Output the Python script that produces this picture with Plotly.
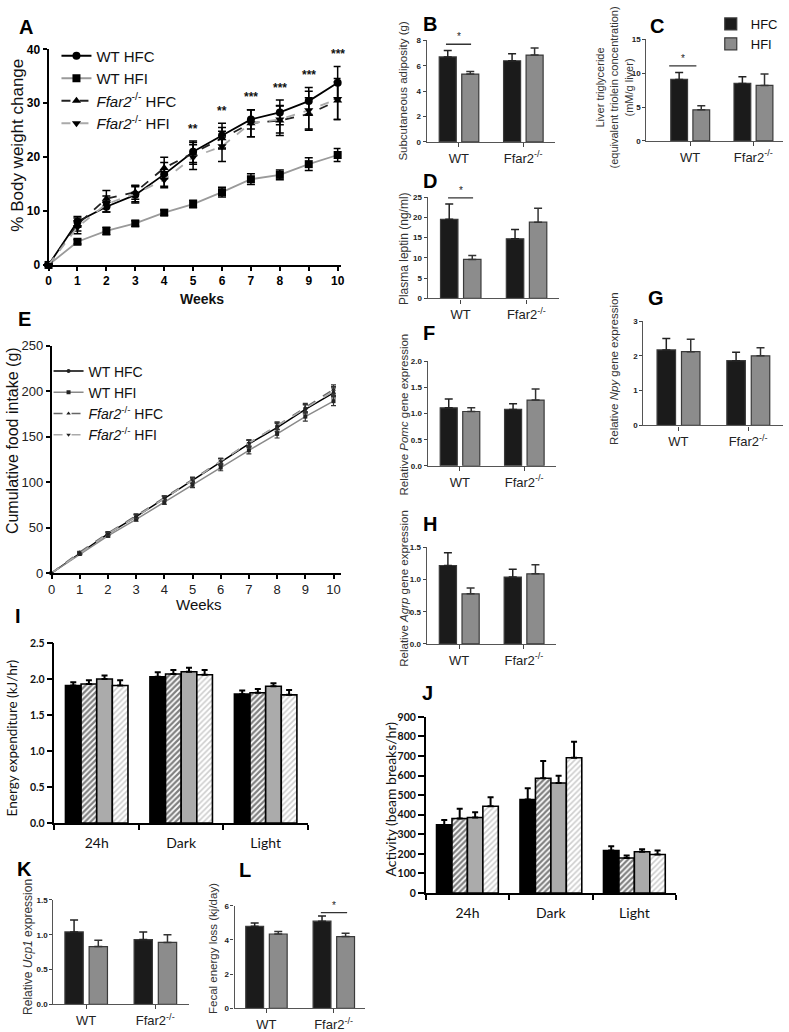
import plotly.graph_objects as go

W, H = 789, 1032
SANS = "Liberation Sans, Arial, sans-serif"
CAL = "Lato, sans-serif"

# ---------------- data ----------------
weeks = list(range(11))
series_names = ["WT HFC", "WT HFI", "<i>Ffar2</i><sup>-/-</sup> HFC", "<i>Ffar2</i><sup>-/-</sup> HFI"]

# Panel A: % body weight change
a_wt_hfc = [0, 8.0, 10.8, 13.0, 16.8, 21.0, 24.0, 27.0, 28.3, 30.4, 33.8]
a_wt_hfc_err = [0, 1.0, 1.0, 1.5, 2.2, 2.0, 2.3, 1.8, 2.3, 2.5, 3.0]
a_wt_hfi = [0, 4.3, 6.3, 7.7, 9.7, 11.3, 13.5, 15.9, 16.7, 18.7, 20.4]
a_wt_hfi_err = [0, 0.4, 0.7, 0.5, 0.5, 0.7, 0.9, 1.0, 0.9, 1.2, 1.2]
a_ko_hfc = [0, 7.5, 12.3, 13.5, 18.0, 20.7, 23.5, 26.3, 26.8, 28.0, 30.5]
a_ko_hfc_err = [0, 1.2, 1.5, 1.3, 2.0, 2.0, 2.0, 2.5, 2.8, 3.0, 3.5]
a_ko_hfi = [0, 7.0, 11.3, 13.2, 15.8, 20.0, 22.0, 26.3, 27.0, 28.7, 30.8]
a_ko_hfi_err = [0, 1.2, 1.5, 1.5, 1.5, 2.3, 2.8, 2.5, 2.5, 3.5, 3.8]
a_sig_weeks = [5, 6, 7, 8, 9, 10]
a_sig_text = ["**", "**", "***", "***", "***", "***"]

# Panel E: cumulative food intake (g)
e_wt_hfc = [0, 22, 43, 62, 82, 102, 122, 142, 160, 180, 198]
e_wt_hfc_err = [0, 1.5, 2.0, 2.5, 2.5, 3.0, 3.5, 4.0, 4.5, 5.0, 5.5]
e_wt_hfi = [0, 21, 41, 59, 78, 97, 116, 135, 153, 172, 189]
e_wt_hfi_err = [0, 1.0, 1.5, 2.0, 2.5, 3.0, 3.5, 4.0, 4.5, 5.0, 5.0]
e_ko_hfc = [0, 23, 44, 63, 83, 103, 123, 143, 162, 182, 202]
e_ko_hfc_err = [0, 1.0, 1.5, 2.0, 2.0, 2.5, 3.0, 3.5, 4.0, 4.5, 5.0]
e_ko_hfi = [0, 22, 43, 62, 82, 102, 123, 143, 162, 181, 200]
e_ko_hfi_err = [0, 1.0, 1.5, 2.0, 2.5, 2.5, 3.0, 3.5, 4.0, 4.5, 5.0]

# Two-group bar panels (HFC vs HFI)
groups = ["WT", "Ffar2<sup>-/-</sup>"]
diets = ["HFC", "HFI"]
b_hfc, b_hfc_err = [6.7, 6.4], [0.5, 0.55]
b_hfi, b_hfi_err = [5.35, 6.85], [0.2, 0.55]
c_hfc, c_hfc_err = [9.1, 8.5], [1.0, 1.0]
c_hfi, c_hfi_err = [4.6, 8.2], [0.6, 1.7]
d_hfc, d_hfc_err = [19.5, 14.7], [3.8, 2.3]
d_hfi, d_hfi_err = [9.6, 18.8], [1.0, 3.4]
f_hfc, f_hfc_err = [1.11, 1.08], [0.17, 0.11]
f_hfi, f_hfi_err = [1.04, 1.26], [0.07, 0.21]
g_hfc, g_hfc_err = [2.17, 1.86], [0.33, 0.24]
g_hfi, g_hfi_err = [2.12, 2.0], [0.36, 0.23]
h_hfc, h_hfc_err = [1.22, 1.04], [0.2, 0.12]
h_hfi, h_hfi_err = [0.78, 1.09], [0.09, 0.14]
k_hfc, k_hfc_err = [1.04, 0.93], [0.17, 0.11]
k_hfi, k_hfi_err = [0.83, 0.89], [0.09, 0.11]
l_hfc, l_hfc_err = [4.8, 5.1], [0.2, 0.3]
l_hfi, l_hfi_err = [4.35, 4.2], [0.15, 0.2]

# Four-group bar panels (I, J)
periods = ["24h", "Dark", "Light"]
i_vals = [[1.91, 2.03, 1.79], [1.93, 2.07, 1.81], [2.00, 2.10, 1.90], [1.91, 2.06, 1.78]]
i_errs = [[0.045, 0.063, 0.05], [0.054, 0.055, 0.05], [0.05, 0.055, 0.04], [0.072, 0.064, 0.068]]
j_vals = [[348, 478, 217], [381, 586, 179], [386, 562, 211], [443, 691, 197]]
j_errs = [[25, 57, 22], [49, 88, 13], [26, 37, 13], [46, 82, 20]]

# ---------------- helpers ----------------
fig = go.Figure()
layout = dict(width=W, height=H, margin=dict(l=0, r=0, t=0, b=0),
              paper_bgcolor="white", plot_bgcolor="white", barmode="overlay",
              font=dict(family=SANS, color="#111"), showlegend=True)
annotations = []
shapes = []


def sfx(n):
    return "" if n == 1 else str(n)


def set_axes(n, xpx, ypx, xr, yr, xkw, ykw):
    s = sfx(n)
    layout["xaxis" + s] = dict(domain=[xpx[0] / W, xpx[1] / W], range=xr, anchor="y" + s,
                               showgrid=False, zeroline=False, showline=True, **xkw)
    layout["yaxis" + s] = dict(domain=[1 - ypx[1] / H, 1 - ypx[0] / H], range=yr, anchor="x" + s,
                               showgrid=False, zeroline=False, showline=True, **ykw)


def text_px(x, y, text, size, family=SANS, angle=0, bold=False, color="#111", xanchor="center", yanchor="middle"):
    annotations.append(dict(x=x / W, y=1 - y / H, xref="paper", yref="paper", text=text, showarrow=False,
                            textangle=angle, xanchor=xanchor, yanchor=yanchor,
                            font=dict(family=family, size=size, color=color,
                                      weight="bold" if bold else "normal")))


# ---------------- Panel A ----------------
a_series = [(a_wt_hfc, a_wt_hfc_err, "black", "solid", "circle", 8),
            (a_wt_hfi, a_wt_hfi_err, "#9a9a9a", "solid", "square", 8),
            (a_ko_hfc, a_ko_hfc_err, "#222222", "dash", "triangle-up", 8),
            (a_ko_hfi, a_ko_hfi_err, "#aaaaaa", "dash", "triangle-down", 8)]
for name, (yv, ev, col, dash, sym, sz) in zip(series_names, a_series):
    fig.add_trace(go.Scatter(x=weeks, y=yv, name=name, mode="lines+markers", legend="legend",
                             line=dict(color=col, dash=dash, width=1.8),
                             marker=dict(symbol=sym, size=sz, color="black"),
                             error_y=dict(type="data", array=ev, color="black", thickness=1.5, width=4),
                             xaxis="x", yaxis="y", cliponaxis=False))
set_axes(1, (45, 340), (43, 262), [0, 10.1], [0, 40],
         dict(tickmode="linear", tick0=0, dtick=1, ticks="outside", ticklen=4, tickwidth=2,
              linecolor="black", linewidth=2, tickcolor="black",
              tickfont=dict(size=12, family=SANS, weight="bold", color="black")),
         dict(tickmode="linear", tick0=0, dtick=10, ticks="outside", ticklen=4, tickwidth=2,
              linecolor="black", linewidth=2, tickcolor="black",
              tickfont=dict(size=12, family=SANS, weight="bold", color="black")))
all_a = [(a_wt_hfc, a_wt_hfc_err), (a_wt_hfi, a_wt_hfi_err), (a_ko_hfc, a_ko_hfc_err), (a_ko_hfi, a_ko_hfi_err)]
for wk, txt in zip(a_sig_weeks, a_sig_text):
    top = max(v[wk] + e[wk] for v, e in all_a)
    annotations.append(dict(x=wk, y=top + 0.6, xref="x", yref="y", text=txt, showarrow=False,
                            yanchor="bottom", font=dict(size=12, family=SANS, weight="bold", color="#111")))
text_px(14, 140, "% Body weight change", 17, angle=-90)
text_px(200, 297, "Weeks", 14, bold=True)
layout["legend"] = dict(x=53 / W, y=1 - 33 / H, xanchor="left", yanchor="top", bgcolor="rgba(0,0,0,0)",
                        font=dict(size=15, family=SANS, color="#111"), tracegroupgap=0)

# ---------------- Panel E ----------------
e_series = [(e_wt_hfc, e_wt_hfc_err, "black", "solid", "circle"),
            (e_wt_hfi, e_wt_hfi_err, "#8a8a8a", "solid", "square"),
            (e_ko_hfc, e_ko_hfc_err, "#666666", "dash", "triangle-up"),
            (e_ko_hfi, e_ko_hfi_err, "#aaaaaa", "dash", "triangle-down")]
for name, (yv, ev, col, dash, sym) in zip(series_names, e_series):
    fig.add_trace(go.Scatter(x=weeks, y=yv, name=name, mode="lines+markers", legend="legend2",
                             line=dict(color=col, dash=dash, width=1.5),
                             marker=dict(symbol=sym, size=4, color="#222"),
                             error_y=dict(type="data", array=ev, color="#333", thickness=1.2, width=2.5),
                             xaxis="x5", yaxis="y5", cliponaxis=False))
set_axes(5, (48, 340), (344, 575), [0, 10.25], [0, 250],
         dict(tickmode="linear", tick0=0, dtick=1, ticks="outside", ticklen=4, tickwidth=1.5,
              linecolor="black", linewidth=1.5, tickcolor="black",
              tickfont=dict(size=13, family=SANS, color="#222")),
         dict(tickmode="linear", tick0=0, dtick=50, ticks="outside", ticklen=4, tickwidth=1.5,
              linecolor="black", linewidth=1.5, tickcolor="black",
              tickfont=dict(size=13, family=SANS, color="#222")))
annotations.append(dict(x=10.3, y=e_wt_hfi[-1], xref="x5", yref="y5", text="*", showarrow=False,
                        xanchor="left", font=dict(size=12, family=SANS, color="#222")))
text_px(8, 440, "Cumulative food intake (g)", 16, angle=-90)
text_px(197, 607, "Weeks", 15)
layout["legend2"] = dict(x=45 / W, y=1 - 354 / H, xanchor="left", yanchor="top", bgcolor="rgba(0,0,0,0)",
                         font=dict(size=14, family=SANS, color="#111"), tracegroupgap=0)

# ---------------- two-group bar panels ----------------
HFC_COL, HFI_COL = "#1b1b1b", "#8c8c8c"
gidx = list(range(len(groups)))
bar_panels = [
    # n, hfc, hfc_err, hfi, hfi_err, xpx, ypx, xrange, yrange, dtick, fmt, title, title_xy, size, sig
    (2, b_hfc, b_hfc_err, b_hfi, b_hfi_err, (427, 557), (34, 137), [-0.5, 1.5], [0, 8], 2, "d",
     "Subcutaneous adiposity (g)", (403, 85), 11.5, (0, 7.7)),
    (3, c_hfc, c_hfc_err, c_hfi, c_hfi_err, (649, 787), (33, 136), [-0.69, 1.47], [0, 15], 5, "d",
     "Liver triglyceride<br>(equivalent triolein concentration)<br>(mM/g liver)", (617, 82), 11, (0, 11.1)),
    (4, d_hfc, d_hfc_err, d_hfi, d_hfi_err, (428, 561), (193, 296), [-0.5, 1.5], [0, 25], 5, "d",
     "Plasma leptin (ng/ml)", (404, 245), 12, (0, 24.8)),
    (6, f_hfc, f_hfc_err, f_hfi, f_hfi_err, (428, 558), (360, 466), [-0.5, 1.5], [0, 2], 0.5, ".1f",
     "Relative <i>Pomc</i> gene expression", (404, 414), 11.5, None),
    (7, g_hfc, g_hfc_err, g_hfi, g_hfi_err, (646, 787), (319, 425), [-0.5, 1.5], [0, 3], 1, "d",
     "Relative <i>Npy</i> gene expression", (617, 367), 11.5, None),
    (8, h_hfc, h_hfc_err, h_hfi, h_hfi_err, (427, 558), (549, 647), [-0.5, 1.5], [0, 1.5], 0.5, ".1f",
     "Relative <i>Agrp</i> gene expression", (404, 590), 11.5, (0, 1.52)),
    (11, k_hfc, k_hfc_err, k_hfi, k_hfi_err, (50, 187), (907, 1013), [-0.47, 1.49], [0, 1.5], 0.5, ".1f",
     "Relative <i>Ucp1</i> expression", (24, 955), 12, None),
    (12, l_hfc, l_hfc_err, l_hfi, l_hfi_err, (233, 365), (913, 1017), [-0.47, 1.47], [0, 6], 2, "d",
     "Fecal energy loss (kj/day)", (211, 956), 11.5, (1, 5.6)),
]
sig_span = {2: (-0.2, 0.19), 3: (-0.33, 0.1), 4: (-0.19, 0.19), 8: (-0.18, 0.22), 12: (-0.19, 0.2)}
for (n, hfc, hfc_e, hfi, hfi_e, xpx, ypx, xr, yr, dt, fmt, title, txy, tsize, sig) in bar_panels:
    s = sfx(n)
    for diet, vals, errs, col, off, ecol in [(diets[0], hfc, hfc_e, HFC_COL, -0.305, "#222"),
                                              (diets[1], hfi, hfi_e, HFI_COL, 0.045, "#333")]:
        fig.add_trace(go.Bar(x=gidx, y=vals, name=diet, offset=off, width=0.265,
                             marker=dict(color=col, line=dict(color="#3a3a3a", width=1.2)),
                             error_y=dict(type="data", array=errs, arrayminus=[0] * len(errs), symmetric=False,
                                          color=ecol, thickness=1.5, width=4),
                             xaxis="x" + s, yaxis="y" + s, legend="legend3", showlegend=(n == 3)))
    set_axes(n, xpx, ypx, xr, yr,
             dict(tickmode="array", tickvals=gidx, ticktext=groups, ticks="outside", ticklen=4,
                  tickcolor="#444", linecolor="#555", linewidth=1.3,
                  tickfont=dict(size=13, family=SANS, color="#222")),
             dict(tickmode="linear", tick0=0, dtick=dt, tickformat=fmt, ticks="outside", ticklen=3,
                  tickcolor="#444", linecolor="#555", linewidth=1.3,
                  tickfont=dict(size=8, family=SANS, weight="bold", color="#222")))
    text_px(txy[0], txy[1], title, tsize, angle=-90, color="#333")
    if sig is not None:
        gx, gy = sig
        x0, x1 = sig_span[n]
        shapes.append(dict(type="line", xref="x" + s, yref="y" + s, x0=gx + x0, x1=gx + x1, y0=gy, y1=gy,
                           line=dict(color="#333", width=1.3)))
        annotations.append(dict(x=gx + (x0 + x1) / 2, y=gy, xref="x" + s, yref="y" + s, text="*",
                                showarrow=False, yanchor="bottom", font=dict(size=10, family=SANS, color="#222")))

layout["legend3"] = dict(x=714 / W, y=1 - 2 / H, xanchor="left", yanchor="top", bgcolor="rgba(0,0,0,0)",
                         font=dict(size=13, family=SANS, color="#111"), tracegroupgap=0)

# ---------------- four-group bar panels I, J ----------------
four_styles = [dict(color="black"),
               dict(color="white", pattern=dict(shape="/", fgcolor="black", bgcolor="white", size=4, solidity=0.55)),
               dict(color="#ababab"),
               dict(color="white", pattern=dict(shape="/", fgcolor="#9c9c9c", bgcolor="white", size=4, solidity=0.4))]
four_offsets = [-0.37, -0.185, 0.0, 0.185]
four_names = ["Group 1", "Group 2", "Group 3", "Group 4"]
for n, vals, errs, xpx, ypx, yr, dt, fmt, title, txy, tsz in [
        (9, i_vals, i_errs, (51, 307), (646, 829), [0, 2.5], 0.5, ".1f", "Energy expenditure (kJ/hr)", (9, 743), 13.5),
        (10, j_vals, j_errs, (426, 679), (721, 900), [0, 900], 100, "d", "Activity (beam breaks/hr)", (390, 805), 14)]:
    s = sfx(n)
    for k in range(4):
        mk = dict(four_styles[k])
        mk["line"] = dict(color="black", width=1.6)
        fig.add_trace(go.Bar(x=periods, y=vals[k], name=four_names[k], offset=four_offsets[k], width=0.185,
                             marker=mk, showlegend=False,
                             error_y=dict(type="data", array=errs[k], arrayminus=[0] * 3, symmetric=False,
                                          color="black", thickness=2, width=3),
                             xaxis="x" + s, yaxis="y" + s))
    set_axes(n, xpx, ypx, [-0.5, 2.5], yr,
             dict(type="category", tickson="boundaries", ticks="outside", ticklen=5, tickwidth=1.5,
                  tickcolor="black", linecolor="black", linewidth=1.5, ticklabelstandoff=6,
                  tickfont=dict(size=14, family=CAL, color="#111")),
             dict(tickmode="linear", tick0=0, dtick=dt, tickformat=fmt, ticks="outside", ticklen=6, tickwidth=1.5,
                  tickcolor="black", linecolor="black", linewidth=1.5,
                  tickfont=dict(size=10.5, family=CAL, weight="bold", color="#111")))
    text_px(txy[0], txy[1], title, tsz, family=CAL, angle=-90)

# ---------------- panel letters ----------------
for letter, x, y in [("A", 22, 20), ("B", 430, 17), ("C", 660, 19), ("D", 430, 177), ("E", 21, 317),
                     ("F", 429, 331), ("G", 659, 296), ("H", 430, 525), ("I", 14, 619), ("J", 428, 697),
                     ("K", 21, 876), ("L", 243, 877)]:
    text_px(x, y, letter, 20, bold=True, color="black")

layout["annotations"] = annotations
layout["shapes"] = shapes
fig.update_layout(**layout)
fig.write_html("out.html", config={"displayModeBar": False},
               post_script="document.body.style.margin='0px';")
